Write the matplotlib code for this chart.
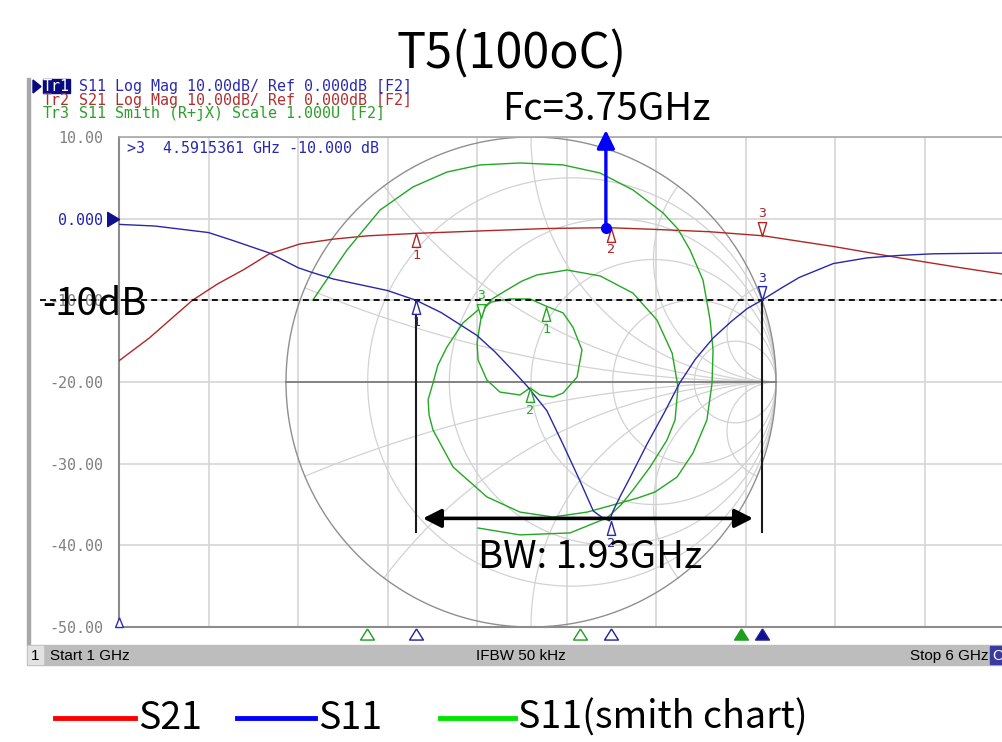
import numpy as np
import matplotlib.pyplot as plt
from matplotlib import transforms, font_manager
from matplotlib.patches import Rectangle, Polygon

# ---- values ----
# Tr1: S11 log mag (GHz, dB)
s11_freq = [1.00, 1.20, 1.50, 1.64, 1.84, 2.00, 2.08, 2.20, 2.35, 2.50, 2.66,
            2.80, 2.90, 3.00, 3.10, 3.20, 3.28, 3.39, 3.48, 3.575, 3.65, 3.70,
            3.74, 3.76, 3.80, 3.855, 3.95, 4.05, 4.13, 4.22, 4.32, 4.42, 4.51,
            4.59, 4.70, 4.80, 4.99, 5.18, 5.36, 5.55, 5.75, 6.00]
s11_db = [-0.7, -0.9, -1.7, -2.7, -4.2, -6.0, -6.6, -7.4, -8.1, -8.8, -10.0,
          -11.5, -12.9, -14.3, -16.3, -18.6, -20.5, -23.5, -27.6, -32.1, -35.8, -36.6,
          -37.0, -35.8, -34.0, -31.7, -27.6, -23.6, -20.2, -17.2, -14.6, -12.6, -11.0,
          -10.0, -8.5, -7.2, -5.5, -4.8, -4.5, -4.3, -4.25, -4.2]

# Tr2: S21 log mag
s21_freq = [1.00, 1.17, 1.30, 1.41, 1.55, 1.70, 1.84, 2.01, 2.20, 2.39, 2.66,
            3.02, 3.40, 3.73, 3.98, 4.30, 4.60, 4.99, 5.36, 5.70, 6.00]
s21_db = [-17.4, -14.6, -12.1, -10.0, -8.0, -6.2, -4.3, -3.1, -2.5, -2.1, -1.8,
          -1.5, -1.2, -1.1, -1.3, -1.6, -2.1, -3.4, -4.8, -6.0, -7.0]

# Tr3: S11 on the smith chart (reflection coefficient), in sweep order
# outer arc from the start of the sweep
outer_re = [-0.890, -0.751, -0.616, -0.482, -0.343, -0.208, -0.045, 0.131, 0.282, 0.416,
            0.539, 0.600, 0.649, 0.702, 0.731, 0.743, 0.739, 0.718, 0.661, 0.596,
            0.506, 0.437, 0.363, 0.229, 0.090]
outer_im = [0.335, 0.539, 0.702, 0.796, 0.857, 0.886, 0.894, 0.886, 0.853, 0.784,
            0.690, 0.624, 0.539, 0.416, 0.253, 0.131, -0.004, -0.155, -0.290, -0.388,
            -0.449, -0.473, -0.494, -0.531, -0.551]
# left half of the middle circle
inner_re = [-0.045, -0.180, -0.318, -0.400, -0.416, -0.420, -0.400, -0.380, -0.343,
            -0.278, -0.216]
inner_im = [-0.531, -0.469, -0.347, -0.196, -0.135, -0.073, -0.004, 0.069, 0.143,
            0.241, 0.294]
# pass-band loop
loop_re = [-0.159, -0.086, -0.004, 0.061, 0.131, 0.171, 0.208, 0.188, 0.131, 0.090,
           0.037, -0.004, -0.045, -0.127, -0.180, -0.216, -0.220, -0.212, -0.204, -0.188]
loop_im = [0.327, 0.339, 0.339, 0.310, 0.282, 0.224, 0.131, 0.020, -0.045, -0.061,
           -0.053, -0.024, -0.053, -0.041, 0.008, 0.090, 0.159, 0.212, 0.261, 0.302]
# upper / right half of the middle circle, then out to the stop frequency
exit_re = [-0.159, -0.098, -0.037, 0.024, 0.147, 0.282, 0.416, 0.514, 0.576, 0.600,
           0.588, 0.555, 0.486, 0.416, 0.367, 0.310, 0.159, -0.045, -0.216]
exit_im = [0.339, 0.376, 0.412, 0.437, 0.457, 0.433, 0.363, 0.253, 0.118, -0.020,
           -0.155, -0.237, -0.347, -0.441, -0.502, -0.555, -0.616, -0.624, -0.596]

# markers 1..3
mk_freq = [2.6615, 3.75, 4.5915]
mk_s11 = [-10.0, -37.0, -10.0]
mk_s21 = [-1.8, -1.1, -2.1]
mk_smith_re = [0.061, -0.004, -0.204]
mk_smith_im = [0.306, -0.024, 0.261]
mk_above = [False, False, True]
smith_mk_freq = [2.385, 3.575, 4.475]   # green marker flags under the grid

fc_freq = 3.72
fc_db = -1.1
bw_db = -36.7
bw_span = [2.698, 4.542]

ytick_vals = [-50, -40, -30, -20, -10, 0, 10]
ytick_text = ['-50.00', '-40.00', '-30.00', '-20.00', '-10.00', '0.000', '10.00']

header = [('Tr1', 'S11 Log Mag 10.00dB/ Ref 0.000dB [F2]'),
          ('Tr2', 'S21 Log Mag 10.00dB/ Ref 0.000dB [F2]'),
          ('Tr3', 'S11 Smith (R+jX) Scale 1.000U [F2]')]
legend_labels = ['S21', 'S11', 'S11(smith chart)']

RED, BLUE, GREEN = '#b02626', '#2828a8', '#22a822'
GRAY = '#808080'

names = {f.name for f in font_manager.fontManager.ttflist}
BIG = ['Noto Sans CJK TC', 'DejaVu Sans']
MONO = 'DejaVu Sans Mono'
NARROW = 'Liberation Sans Narrow' if 'Liberation Sans Narrow' in names else 'Liberation Sans'

W, H = 1002, 742
fig = plt.figure(figsize=(W / 100, H / 100), dpi=100)


def fx(x):
    return x / W


def fy(y):
    return 1 - y / H


# plot box in pixels (right edge runs past the screenshot crop)
L, R, T, B = 119, 1014, 137, 627
ax = fig.add_axes([fx(L), fy(B), (R - L) / W, (B - T) / H])
ax.set_xlim(1, 6)
ax.set_ylim(-50, 10)
ax.patch.set_alpha(0)
ax.set_xticks(np.arange(1, 6.01, 0.5))
ax.set_xticklabels([])
ax.set_yticks(ytick_vals, ytick_text, family=MONO, fontsize=10.8, color=GRAY)
ax.get_yticklabels()[5].set_color('#2020b0')
ax.tick_params(length=0, pad=11.5)
ax.grid(True, color='#d6d6d6', lw=1.2)
ax.set_axisbelow(True)
ax.spines['right'].set_visible(False)
ax.spines['left'].set_color('#8c8c8c')
ax.spines['left'].set_linewidth(1.5)
ax.spines['bottom'].set_color('#8c8c8c')
ax.spines['bottom'].set_linewidth(1.5)
ax.spines['top'].set_color('#a8a8a8')
ax.spines['top'].set_linewidth(1.2)

# smith chart overlay: unit circle centred on -20 dB, radius = half the plot height
cx, cy, rad = 531, 382, 245
smith_tr = (transforms.Affine2D()
            .scale(rad / (R - L), rad / (B - T))
            .translate((cx - L) / (R - L), (B - cy) / (B - T))
            + ax.transAxes)

t = np.linspace(0, 2 * np.pi, 500)
for r in [0.2, 0.5, 1, 2, 5]:
    c0, rr = r / (1 + r), 1 / (1 + r)
    ax.plot(c0 + rr * np.cos(t), rr * np.sin(t), transform=smith_tr,
            color='#d2d2d2', lw=0.9, zorder=1)
res = np.concatenate([[0], np.logspace(-3, 3, 600)])
for xv in [0.2, 0.5, 1, 2, 5]:
    for sgn in (1, -1):
        g = (res + 1j * sgn * xv - 1) / (res + 1j * sgn * xv + 1)
        ax.plot(g.real, g.imag, transform=smith_tr, color='#d2d2d2', lw=0.9, zorder=1)
ax.plot(np.cos(t), np.sin(t), transform=smith_tr, color='#8f8f8f', lw=1.0, zorder=1.2)
ax.plot([-1, 1], [0, 0], transform=smith_tr, color='#7c7c7c', lw=1.3, zorder=1.2)

# traces
smith_re = outer_re + inner_re + loop_re + exit_re
smith_im = outer_im + inner_im + loop_im + exit_im
ax.plot(s21_freq, s21_db, color=RED, lw=1.0, zorder=3)
ax.plot(smith_re, smith_im, transform=smith_tr, color=GREEN, lw=1.0, zorder=3,
        solid_joinstyle='round')
ax.plot(s11_freq, s11_db, color=BLUE, lw=1.0, zorder=4)

# -10 dB dashed reference
dash_tr = transforms.blended_transform_factory(fig.transFigure, ax.transData)
ax.plot([fx(40), 1.0], [-10, -10], transform=dash_tr, color='black', lw=1.3,
        ls=(0, (3.3, 2.3)), zorder=5, clip_on=False)

# marker triangles
tri_up = [(0, 0), (-0.3, -1), (0.3, -1), (0, 0)]    # tip on trace, body below
tri_dn = [(0, 0), (-0.3, 1), (0.3, 1), (0, 0)]      # tip on trace, body above


def put_markers(xs, ys, color, tr):
    for i, (xv, yv) in enumerate(zip(xs, ys)):
        above = mk_above[i]
        ax.plot([xv], [yv], marker=tri_dn if above else tri_up, ms=20, mew=1.0,
                mec=color, mfc='white', transform=tr, zorder=6, clip_on=False)
        ax.annotate(str(i + 1), xy=(xv, yv), xycoords=tr,
                    xytext=(0, 16 if above else -16), textcoords='offset points',
                    ha='center', va='center', fontsize=9.5, family=MONO,
                    color=color, zorder=6, annotation_clip=False)


put_markers(mk_freq, mk_s21, RED, ax.transData)
put_markers(mk_freq, mk_s11, BLUE, ax.transData)
put_markers(mk_smith_re, mk_smith_im, GREEN, smith_tr)

# marker flags below the grid
flag_tr = transforms.blended_transform_factory(ax.transData, ax.transAxes)
flag = [(0, 0.8), (-1, -0.8), (1, -0.8), (0, 0.8)]
fy_ax = -(634 - B) / (B - T)
for i, f in enumerate(smith_mk_freq):
    ax.plot([f], [fy_ax], marker=flag, ms=10, mew=1.0, mec='#1e9e1e',
            mfc='#1e9e1e' if i == 2 else 'white', transform=flag_tr, clip_on=False)
for i, f in enumerate(mk_freq):
    ax.plot([f], [fy_ax], marker=flag, ms=10, mew=1.0, mec='#2020a0',
            mfc='#101090' if i == 2 else 'white', transform=flag_tr, clip_on=False)
ax.plot([1.0], [-50], marker=[(0, 1), (-0.4, 0), (0.4, 0), (0, 1)], ms=14, mew=1.0,
        mec='#3030b0', mfc='white', clip_on=False, zorder=6)
# reference level pointer
ax.plot([1.0], [0], marker=[(0, 0), (-1, 0.6), (-1, -0.6), (0, 0)], ms=17,
        color='#10108c', clip_on=False, zorder=6)

# centre frequency arrow and bandwidth arrow
ax.annotate('', xy=(fc_freq, 10.85), xytext=(fc_freq, fc_db),
            arrowprops=dict(arrowstyle='-|>,head_length=0.55,head_width=0.27',
                            mutation_scale=20, color='#0000ff', lw=2.4,
                            shrinkA=0, shrinkB=0),
            annotation_clip=False, zorder=7)
ax.plot([fc_freq], [fc_db], 'o', color='#0000ff', ms=7, zorder=7)
for f in (mk_freq[0], mk_freq[2]):
    ax.plot([f, f], [-10, -38.4], color='#1a1a1a', lw=1.5, zorder=5)
ax.annotate('', xy=(bw_span[0], bw_db), xytext=(bw_span[1], bw_db),
            arrowprops=dict(arrowstyle='<|-|>,head_length=0.55,head_width=0.28',
                            mutation_scale=20, color='black', lw=2.6,
                            shrinkA=0, shrinkB=0), zorder=7)

# active marker readout
fig.text(fx(127), fy(153), '>3  4.5915361 GHz -10.000 dB', family=MONO,
         fontsize=10.8, color='#2828b0', va='baseline')

# header lines
hdr_cols = ['#2a2ab0', '#b03030', '#2aa02a']
hdr_base = [91, 105, 118]
fig.patches.append(Rectangle((fx(43), fy(93)), 27 / W, 14 / H, color='#0a0a80',
                             transform=fig.transFigure))
fig.patches.append(Polygon([(fx(33), fy(80)), (fx(33), fy(93)), (fx(41), fy(86.5))],
                           closed=True, color='#0a0a80', transform=fig.transFigure))
for i, (tag, rest) in enumerate(header):
    fig.text(fx(43), fy(hdr_base[i]), tag, family=MONO, fontsize=10.8,
             color='white' if i == 0 else hdr_cols[i], va='baseline')
    fig.text(fx(79), fy(hdr_base[i]), rest, family=MONO, fontsize=10.8,
             color=hdr_cols[i], va='baseline')

# window frame and status bar
fig.patches.append(Rectangle((fx(27), fy(645)), 3 / W, (645 - 78) / H,
                             color='#a8a8a8', transform=fig.transFigure))
fig.patches.append(Rectangle((fx(27), fy(665)), (W - 27) / W, 20 / H,
                             color='#bdbdbd', transform=fig.transFigure))
fig.patches.append(Rectangle((fx(28), fy(664)), 15 / W, 18 / H,
                             color='#e2e2e2', transform=fig.transFigure))
fig.patches.append(Rectangle((fx(990), fy(664)), 12 / W, 18 / H,
                             color='#3a3aa0', transform=fig.transFigure))
fig.text(fx(31), fy(660), '1', family=NARROW, fontsize=11, va='baseline')
fig.text(fx(50), fy(660), 'Start 1 GHz', family=NARROW, fontsize=11, va='baseline')
fig.text(fx(476), fy(660), 'IFBW 50 kHz', family=NARROW, fontsize=11, va='baseline')
fig.text(fx(910), fy(660), 'Stop 6 GHz', family=NARROW, fontsize=11, va='baseline')
fig.text(fx(992), fy(660), 'C', family=NARROW, fontsize=11, va='baseline', color='white')

# big annotations
fig.text(fx(512), fy(68), 'T5(100oC)', family=BIG, fontsize=35, ha='center', va='baseline')
fig.text(fx(502), fy(120), 'Fc=3.75GHz', family=BIG, fontsize=27.5, va='baseline')
fig.text(fx(478), fy(568), 'BW: 1.93GHz', family=BIG, fontsize=27.5, va='baseline')
fig.text(fx(42), fy(315), '-10dB', family=BIG, fontsize=27.5, va='baseline')

# legend drawn under the screenshot
leg_cols = ['#ff0000', '#0000ff', '#00e600']
leg_lines = [(55, 135), (237, 315), (440, 515)]
leg_text_x = [138, 318, 518]
for col, (x0, x1), tx, lab in zip(leg_cols, leg_lines, leg_text_x, legend_labels):
    fig.add_artist(plt.Line2D([fx(x0), fx(x1)], [fy(718), fy(718)], color=col,
                              lw=3.5, transform=fig.transFigure))
    fig.text(fx(tx), fy(729), lab, family=BIG, fontsize=27, va='baseline')

fig.savefig('out.png', dpi=100)
